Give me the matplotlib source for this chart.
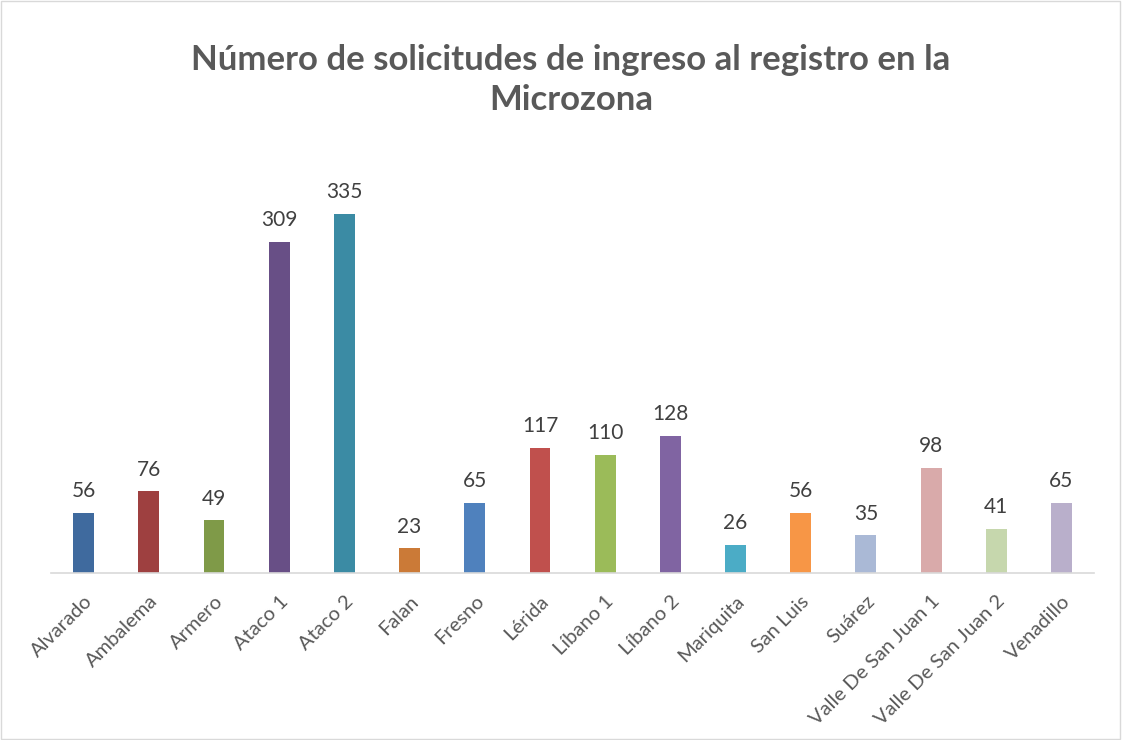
import matplotlib.pyplot as plt
from matplotlib.patches import Rectangle

plt.rcParams['font.family'] = ['Lato', 'DejaVu Sans']

municipios = ['Alvarado', 'Ambalema', 'Armero', 'Ataco 1', 'Ataco 2', 'Falan',
              'Fresno', 'Lérida', 'Líbano 1', 'Líbano 2', 'Mariquita',
              'San Luis', 'Suárez', 'Valle De San Juan 1', 'Valle De San Juan 2',
              'Venadillo']
solicitudes = [56, 76, 49, 309, 335, 23, 65, 117, 110, 128, 26, 56, 35, 98, 41, 65]
colores = ['#3F6A9E', '#9E4040', '#7F9A48', '#684F86', '#3B8BA4', '#CB7A37',
           '#4F81BD', '#C0504D', '#9BBB59', '#8064A2', '#4BACC6', '#F79646',
           '#AAB9D6', '#D9AAAA', '#C6D7AD', '#B9AFCB']

fig = plt.figure(figsize=(11.22, 7.4), dpi=100)
ax = fig.add_axes([0.0455, 0.2257, 0.9296, 0.5797])

x = range(len(municipios))
bars = ax.bar(x, solicitudes, width=0.32, color=colores)
for b, v in zip(bars, solicitudes):
    ax.text(b.get_x() + b.get_width() / 2, v + 11, str(v), ha='center', va='bottom',
            fontsize=15, color='#404040')

ax.set_xlim(-0.5, len(municipios) - 0.5)
ax.set_ylim(0, 400)
ax.set_yticks([])
ax.set_xticks(list(x))
ax.set_xticklabels(municipios, rotation=45, ha='right', rotation_mode='anchor',
                   fontsize=14.5, color='#595959')
ax.tick_params(axis='x', length=0, pad=14)
for s in ['top', 'right', 'left']:
    ax.spines[s].set_visible(False)
ax.spines['bottom'].set_color('#D9D9D9')
ax.spines['bottom'].set_linewidth(1.2)

fig.text(0.509, 0.892, 'Número de solicitudes de ingreso al registro en la\nMicrozona',
         ha='center', va='center', fontsize=25, fontweight='bold', color='#595959',
         linespacing=1.33)

fig.patches.append(Rectangle((0.001, 0.001), 0.997, 0.997, transform=fig.transFigure,
                             fill=False, edgecolor='#D9D9D9', linewidth=1))

fig.savefig('out.png', dpi=100)
